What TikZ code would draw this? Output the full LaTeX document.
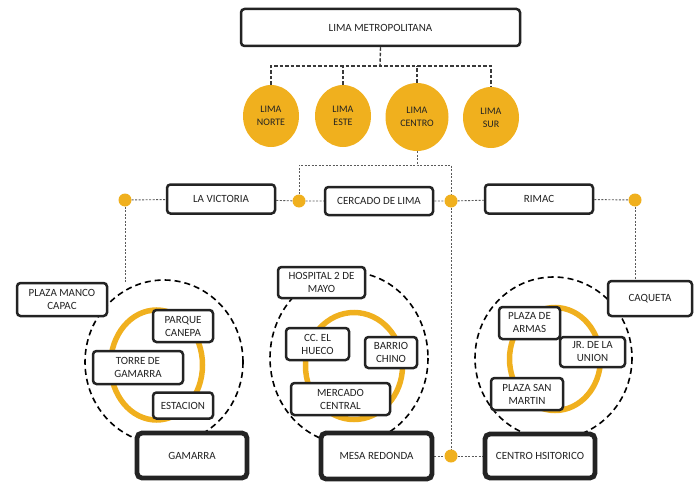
\documentclass[tikz,border=0pt]{standalone}
\usepackage{fontspec}
\setmainfont{Carlito}
\usetikzlibrary{shapes.geometric,backgrounds}
\definecolor{gold}{RGB}{240,176,30}
\definecolor{ink}{RGB}{35,35,35}
\begin{document}
\begin{tikzpicture}[x=1pt,y=-1pt,
 sz/.style 2 args={minimum width=#1pt,minimum height=#2pt},
 box/.style={draw=ink, line width=2.5pt, rounded corners=3.5pt, fill=white, align=center, inner sep=0pt, font=\fontsize{11}{13}\selectfont, text=ink},
 bigbox/.style={box, line width=4.8pt, rounded corners=5pt},
 zone/.style={ellipse, fill=gold, inner sep=0pt, align=center, font=\fontsize{10}{13}\selectfont, text=ink},
 dot/.style={circle, fill=gold, inner sep=0pt, minimum size=13pt},
 tree/.style={draw=ink!90, line width=1.4pt, dash pattern=on 3.5pt off 2pt},
 fine/.style={draw=ink!75, line width=0.9pt, dash pattern=on 2pt off 1.5pt},
 halo/.style={draw=black, line width=1.6pt, dash pattern=on 6pt off 4pt},
 ring/.style={draw=gold, line width=5.5pt}]
\useasboundingbox (0,0) rectangle (700,484);

% group outlines and rings
\draw[halo] (164,362) ellipse [x radius=79, y radius=82];
\draw[ring] (156.5,365) ellipse [x radius=46, y radius=55];
\draw[halo] (349,358) ellipse [x radius=79, y radius=86];
\draw[ring] (354,366) ellipse [x radius=48.5, y radius=53.5];
\draw[halo] (553.5,358) ellipse [x radius=78.5, y radius=81];
\draw[ring] (555,359) ellipse [x radius=45.5, y radius=51.5];

% top
\node[box, sz={279}{37}] (top) at (380.5,27.5) {LIMA METROPOLITANA};
\node[zone, sz={56}{62}] (norte) at (271,116) {LIMA\\NORTE};
\node[zone, sz={56}{62}] (este) at (343,116) {LIMA\\ESTE};
\node[zone, sz={63}{68}] (centro) at (417,117) {LIMA\\CENTRO};
\node[zone, sz={56}{61}] (sur) at (491,117.5) {LIMA\\SUR};

% row 2
\node[box, sz={108}{29}] (lavictoria) at (221,199) {LA VICTORIA};
\node[box, sz={108}{28}] (cercado) at (379,201) {CERCADO DE LIMA};
\node[box, sz={108}{29}] (rimac) at (539,199) {RIMAC};
\node[dot] (d1) at (125,200) {};
\node[dot] (d2) at (299,201) {};
\node[dot] (d3) at (451,201) {};
\node[dot] (d5) at (635,200) {};

% left group
\node[box, sz={90}{33}] (manco) at (62,299.5) {PLAZA MANCO\\CAPAC};
\node[box, sz={60}{32}] (parque) at (183,326) {PARQUE\\CANEPA};
\node[box, sz={90}{33}] (torre) at (138,367.5) {TORRE DE\\GAMARRA};
\node[box, sz={60}{26}] (estacion) at (183,405.5) {ESTACION};
\node[bigbox, sz={110}{45}] (gamarra) at (192,455.5) {GAMARRA};

% middle group
\node[box, sz={87}{31}] (hospital) at (321.5,282.5) {HOSPITAL 2 DE\\MAYO};
\node[box, sz={63}{32}] (hueco) at (317.5,344) {CC. EL\\HUECO};
\node[box, sz={52}{31}] (chino) at (391,352.5) {BARRIO\\CHINO};
\node[box, sz={99}{32}] (mercado) at (340.5,399) {MERCADO\\CENTRAL};
\node[bigbox, sz={111}{46}] (mesa) at (376.5,456) {MESA REDONDA};
\node[dot] (d4) at (451,456) {};

% right group
\node[box, sz={84}{35}] (caqueta) at (650,298.5) {CAQUETA};
\node[box, sz={61}{32}] (armas) at (529.5,323) {PLAZA DE\\ARMAS};
\node[box, sz={65}{30}] (union) at (592.5,352) {JR. DE LA\\UNION};
\node[box, sz={72}{32}] (sanmartin) at (527,394) {PLAZA SAN\\MARTIN};
\node[bigbox, sz={110}{44}] (centrohist) at (540,456) {CENTRO HSITORICO};

\coordinate (bus1) at (380,66);
\coordinate (bus2) at (417,165);
\coordinate (e1) at (125,282);

\begin{pgfonlayer}{background}
\draw[tree] (top.south) -- (bus1);
\draw[tree] (norte.north) |- (bus1) -| (sur.north);
\draw[tree] (este.north) -- (este.north |- bus1);
\draw[tree] (centro.north) -- (centro.north |- bus1);
\draw[fine] (centro.south) -- (bus2);
\draw[fine] (d2) |- (bus2) -| (d3);
\draw[fine] (d1) -- (lavictoria) -- (d2) -- (cercado) -- (d3) -- (rimac) -- (d5);
\draw[fine] (d1) -- (e1);
\draw[fine] (d5) -- (d5 |- caqueta.north);
\draw[fine] (d3) -- (d4);
\draw[fine] (mesa) -- (d4) -- (centrohist);
\end{pgfonlayer}
\end{tikzpicture}
\end{document}
